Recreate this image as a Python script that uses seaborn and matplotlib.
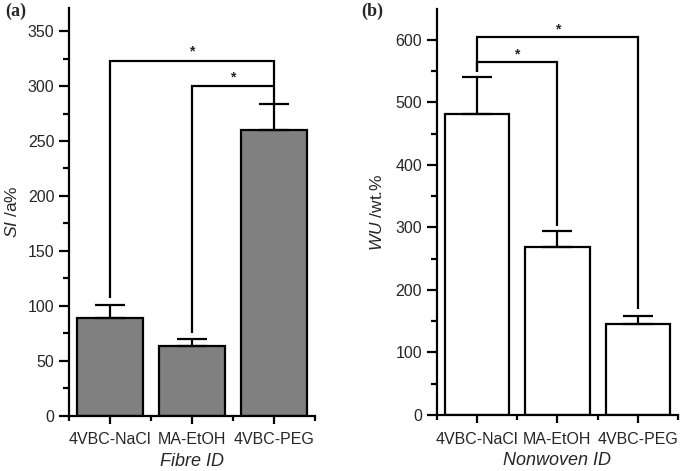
import matplotlib

matplotlib.use("Agg")

import matplotlib.pyplot as plt
import numpy as np
import seaborn as sns
from matplotlib.ticker import MultipleLocator, FixedLocator

# data
categories = ["4VBC-NaCl", "MA-EtOH", "4VBC-PEG"]

si_values = [89, 63, 260]
si_errors = [12, 7, 24]
# brackets: (left bar, right bar, left leg bottom, top, right leg bottom)
si_brackets = [(0, 2, 107, 323, 284), (1, 2, 75, 300, 300)]

wu_values = [482, 269, 145]
wu_errors = [58, 25, 13]
wu_brackets = [(0, 2, 549, 604, 169), (0, 1, 549, 565, 303)]

sns.set_theme(style="ticks")
plt.rcParams["font.family"] = ["Liberation Sans", "DejaVu Sans"]
plt.rcParams["mathtext.fontset"] = "custom"
plt.rcParams["mathtext.it"] = "Liberation Sans:italic"
plt.rcParams["mathtext.rm"] = "Liberation Sans"

LW = 1.6


def draw_panel(ax, values, errors, brackets, color, ylim, major, minor, ylabel, xlabel, star_off):
    sns.barplot(x=categories, y=values, color=color, saturation=1, edgecolor="black",
                linewidth=LW, width=0.8, errorbar=None, ax=ax)
    xs = np.arange(len(values))
    ax.errorbar(xs, values, yerr=[np.zeros(len(errors)), errors], fmt="none",
                ecolor="black", elinewidth=LW, capsize=10.5, capthick=LW)
    for left, right, lo_l, top, lo_r in brackets:
        ax.plot([left, left, right, right], [lo_l, top, top, lo_r], color="black",
                lw=LW, solid_joinstyle="miter", solid_capstyle="butt")
        ax.text((left + right) / 2, top + star_off, "*", ha="center", va="center",
                fontsize=10, fontweight="bold")
    ax.set_xlim(-0.5, 2.5)
    ax.set_ylim(*ylim)
    ax.yaxis.set_major_locator(MultipleLocator(major))
    ax.yaxis.set_minor_locator(MultipleLocator(minor))
    ax.xaxis.set_minor_locator(FixedLocator([-0.5, 0.5, 1.5, 2.5]))
    ax.tick_params(which="major", direction="out", length=7, width=LW, labelsize=11.5, color="black")
    ax.tick_params(which="minor", direction="out", length=4, width=LW, color="black")
    ax.tick_params(axis="x", which="major", length=6, pad=6)
    ax.tick_params(axis="x", which="minor", length=3.5)
    for side in ("top", "right"):
        ax.spines[side].set_visible(False)
    for side in ("left", "bottom"):
        ax.spines[side].set_linewidth(LW)
        ax.spines[side].set_color("black")
    ax.set_ylabel(ylabel, fontsize=12.5)
    ax.set_xlabel(xlabel, fontsize=13, fontstyle="italic", labelpad=4)


fig = plt.figure(figsize=(6.85, 4.71), dpi=100)
ax_a = fig.add_axes([0.1007, 0.1174, 0.3592, 0.8656])
ax_b = fig.add_axes([0.6375, 0.1189, 0.3523, 0.8613])

draw_panel(ax_a, si_values, si_errors, si_brackets, "#808080", (0, 371), 50, 25,
           r"$\mathit{SI}$ /a%", "Fibre ID", 8)
draw_panel(ax_b, wu_values, wu_errors, wu_brackets, "white", (0, 649), 100, 50,
           r"$\mathit{WU}$ /wt.%", "Nonwoven ID", 12)

ax_a.yaxis.set_label_coords(-0.2, 0.5)
ax_b.yaxis.set_label_coords(-0.215, 0.5)

fig.text(0.007, 0.975, "(a)", fontsize=13, fontweight="bold",
         family=["Liberation Serif", "DejaVu Serif"], va="center")
fig.text(0.528, 0.975, "(b)", fontsize=13, fontweight="bold",
         family=["Liberation Serif", "DejaVu Serif"], va="center")

fig.savefig("out.png", dpi=100)
